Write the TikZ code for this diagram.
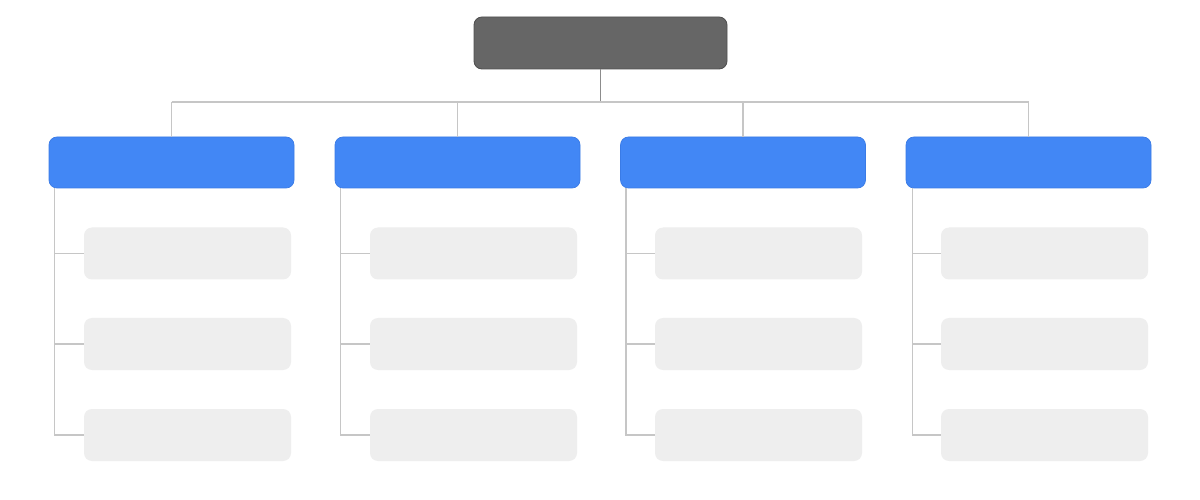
\documentclass[tikz,border=0pt]{standalone}
\usepackage{tikz}

\definecolor{capo}{HTML}{666666}
\definecolor{capobordo}{HTML}{505050}
\definecolor{blu}{HTML}{4287F5}
\definecolor{blubordo}{HTML}{3A7BE6}
\definecolor{grigio}{HTML}{EEEEEE}
\definecolor{linea}{HTML}{C6C6C6}
\definecolor{lineascura}{HTML}{8C8C8C}

\tikzset{
  capobox/.style={draw=capobordo,fill=capo,rounded corners=0.16cm,minimum width=5.06cm,minimum height=1.04cm,line width=0.5pt},
  blubox/.style={draw=blubordo,fill=blu,rounded corners=0.16cm,minimum width=4.9cm,minimum height=1.02cm,line width=0.4pt},
  grigiobox/.style={fill=grigio,rounded corners=0.16cm,minimum width=4.14cm,minimum height=1.04cm},
  ramo/.style={draw=linea,line width=0.6pt}
}

\begin{document}
\begin{tikzpicture}
  \useasboundingbox[fill=white] (0,0) rectangle (24,-10);

  % Nodo principale
  \node[capobox] (top) at (12.01,-0.86) {};
  \coordinate (bus) at (12.01,-2.04);
  \draw[draw=lineascura,line width=0.6pt] (top.south) -- (bus);

  % Colonna 1
  \node[blubox] (b1) at (3.43,-3.25) {};
  \node[grigiobox] (c11) at (3.75,-5.07) {};
  \node[grigiobox] (c12) at (3.75,-6.88) {};
  \node[grigiobox] (c13) at (3.75,-8.70) {};
  \coordinate (s1) at (1.09,-3.76);

  % Colonna 2
  \node[blubox] (b2) at (9.15,-3.25) {};
  \node[grigiobox] (c21) at (9.47,-5.07) {};
  \node[grigiobox] (c22) at (9.47,-6.88) {};
  \node[grigiobox] (c23) at (9.47,-8.70) {};
  \coordinate (s2) at (6.81,-3.76);

  % Colonna 3
  \node[blubox] (b3) at (14.86,-3.25) {};
  \node[grigiobox] (c31) at (15.17,-5.07) {};
  \node[grigiobox] (c32) at (15.17,-6.88) {};
  \node[grigiobox] (c33) at (15.17,-8.70) {};
  \coordinate (s3) at (12.52,-3.76);

  % Colonna 4
  \node[blubox] (b4) at (20.57,-3.25) {};
  \node[grigiobox] (c41) at (20.89,-5.07) {};
  \node[grigiobox] (c42) at (20.89,-6.88) {};
  \node[grigiobox] (c43) at (20.89,-8.70) {};
  \coordinate (s4) at (18.25,-3.76);

  % Connessioni
  \draw[ramo] (b1.north |- bus) -- (b4.north |- bus);
  \draw[ramo] (b1.north) -- (b1.north |- bus);
  \draw[ramo] (b2.north) -- (b2.north |- bus);
  \draw[ramo] (b3.north) -- (b3.north |- bus);
  \draw[ramo] (b4.north) -- (b4.north |- bus);

  \draw[ramo] (s1) |- (c13.west);
  \draw[ramo] (c11.west -| s1) -- (c11.west);
  \draw[ramo] (c12.west -| s1) -- (c12.west);

  \draw[ramo] (s2) |- (c23.west);
  \draw[ramo] (c21.west -| s2) -- (c21.west);
  \draw[ramo] (c22.west -| s2) -- (c22.west);

  \draw[ramo] (s3) |- (c33.west);
  \draw[ramo] (c31.west -| s3) -- (c31.west);
  \draw[ramo] (c32.west -| s3) -- (c32.west);

  \draw[ramo] (s4) |- (c43.west);
  \draw[ramo] (c41.west -| s4) -- (c41.west);
  \draw[ramo] (c42.west -| s4) -- (c42.west);
\end{tikzpicture}
\end{document}
